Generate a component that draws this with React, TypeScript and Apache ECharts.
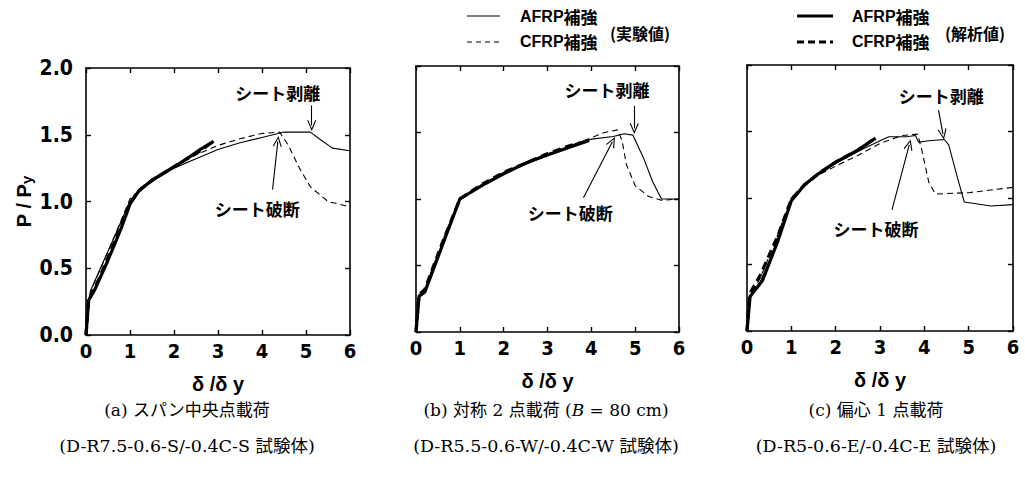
import React, { useEffect, useRef } from "react";
import * as echarts from "echarts";

// ---------- data (δ/δy , P/Py) ----------
// (a) span-centre loading
const aExpAFRP = [[0,0],[0.04,0.22],[0.1,0.33],[0.3,0.48],[0.6,0.7],[0.9,0.93],[1.0,1.0],[1.3,1.1],[1.6,1.17],[2,1.25],[2.5,1.32],[3,1.39],[3.5,1.44],[4,1.48],[4.5,1.52],[5.1,1.52],[5.3,1.47],[5.6,1.4],[6,1.38]];
const aExpCFRP = [[0,0],[0.05,0.25],[0.15,0.36],[0.4,0.55],[0.7,0.78],[1.0,1.02],[1.3,1.11],[1.6,1.18],[2,1.26],[2.5,1.35],[3,1.42],[3.5,1.47],[4,1.51],[4.4,1.52],[4.6,1.42],[4.85,1.25],[5.1,1.11],[5.5,1.0],[6,0.96]];
const aAnaAFRP = [[0,0],[0.06,0.26],[0.2,0.34],[0.5,0.56],[0.8,0.8],[1.0,0.98],[1.2,1.08],[1.5,1.16],[1.8,1.22],[2.2,1.3],[2.6,1.39],[2.9,1.45]];
const aAnaCFRP = [[0,0],[0.06,0.26],[0.2,0.35],[0.5,0.58],[0.8,0.82],[1.0,0.99],[1.2,1.08],[1.5,1.16],[1.8,1.22],[2.2,1.3],[2.6,1.38],[2.85,1.44]];
// (b) symmetric two-point loading
const bExpAFRP = [[0,0],[0.07,0.27],[0.2,0.3],[0.6,0.66],[1,1],[1.5,1.1],[2,1.19],[2.5,1.26],[3,1.33],[3.5,1.39],[4,1.45],[4.5,1.47],[4.75,1.49],[4.95,1.48],[5.2,1.3],[5.4,1.13],[5.6,1.0],[6,1.0]];
const bExpCFRP = [[0,0],[0.08,0.28],[0.2,0.32],[0.6,0.68],[1,1.01],[1.5,1.1],[2,1.2],[2.5,1.27],[3,1.34],[3.5,1.4],[4,1.46],[4.3,1.5],[4.6,1.52],[4.7,1.44],[4.8,1.26],[5.0,1.1],[5.3,1.02],[5.6,0.99],[6,1.0]];
const bAnaAFRP = [[0,0],[0.07,0.27],[0.2,0.3],[0.6,0.65],[1,1],[1.5,1.1],[2,1.19],[2.5,1.27],[3,1.33],[3.5,1.39],[3.95,1.44]];
const bAnaCFRP = [[0,0],[0.07,0.28],[0.2,0.32],[0.6,0.67],[1,1],[1.5,1.11],[2,1.2],[2.5,1.27],[3,1.34],[3.5,1.4],[3.85,1.43]];
// (c) eccentric one-point loading
const cExpAFRP = [[0,0],[0.07,0.25],[0.3,0.37],[0.6,0.6],[1,0.98],[1.3,1.1],[1.6,1.18],[2,1.26],[2.5,1.35],[3,1.43],[3.2,1.46],[3.6,1.46],[3.8,1.47],[3.87,1.42],[4.1,1.43],[4.45,1.44],[4.55,1.4],[4.75,1.15],[4.9,0.97],[5.5,0.94],[6,0.95]];
const cExpCFRP = [[0,0],[0.07,0.26],[0.3,0.4],[0.6,0.64],[1,1.0],[1.3,1.1],[1.6,1.17],[2,1.24],[2.5,1.32],[3,1.41],[3.5,1.47],[3.85,1.48],[3.95,1.35],[4.1,1.12],[4.25,1.03],[5,1.04],[6,1.08]];
const cAnaAFRP = [[0,0],[0.07,0.26],[0.35,0.38],[0.7,0.68],[1,0.98],[1.3,1.1],[1.6,1.18],[2,1.27],[2.5,1.36],[2.9,1.45]];
const cAnaCFRP = [[0,0],[0.06,0.28],[0.3,0.42],[0.7,0.72],[1,0.99],[1.3,1.1],[1.6,1.18],[2,1.27],[2.5,1.36],[2.85,1.44]];

// annotation anchors (data coords): [peelText, peelArrowFrom, peelArrowTo, ruptText, ruptArrowFrom, ruptArrowTo]
const aNotes = [[4.36,1.82],[5.13,1.72],[5.13,1.57],[3.89,0.95],[4.24,1.09],[4.36,1.45]];
const bNotes = [[4.36,1.82],[4.98,1.70],[4.98,1.53],[3.52,0.90],[3.82,1.01],[4.48,1.43]];
const cNotes = [[4.38,1.77],[4.32,1.66],[4.42,1.48],[2.91,0.77],[3.27,0.91],[3.66,1.40]];

const xTicks = ["0","1","2","3","4","5","6"];
const yTicks = ["0.0","0.5","1.0","1.5","2.0"];

const peelLabel = "シート剥離";
const ruptLabel = "シート破断";
const xName = "δ /δ y";
const captions1 = ["(a) スパン中央点載荷", "(b) 対称 2 点載荷 ({i|B} = 80 cm)", "(c) 偏心 1 点載荷"];
const captions2 = ["(D-R7.5-0.6-S/-0.4C-S 試験体)", "(D-R5.5-0.6-W/-0.4C-W 試験体)", "(D-R5-0.6-E/-0.4C-E 試験体)"];

const NARROW = "'Liberation Sans Narrow', 'DejaVu Sans Condensed', 'Liberation Sans', sans-serif";
const SANS = "'Liberation Sans', Arial, sans-serif";
const CJK = "'Noto Sans CJK JP', sans-serif";
const SERIF = "'DejaVu Serif', 'Liberation Serif', 'Noto Sans CJK JP', serif";

const grids = [
  { left: 86, top: 68, width: 264, height: 267 },
  { left: 416, top: 66, width: 263, height: 266 },
  { left: 747, top: 65, width: 266, height: 266 },
];

const CHEVRON = "path://M0,0L5,10L4,10.7L0,2.6L-4,10.7L-5,10Z";

function buildOption() {
  const lineCol = "#000";
  const axisLine = { show: true, onZero: false, lineStyle: { color: lineCol, width: 1.6 } };
  const axisTick = { show: true, inside: true, length: 5, lineStyle: { color: lineCol, width: 1.4 } };
  const xAxis: any[] = [];
  const yAxis: any[] = [];
  grids.forEach((_, gi) => {
    xAxis.push({
      type: "value", gridIndex: gi, min: 0, max: 6, interval: 1, position: "bottom",
      axisLine, axisTick, splitLine: { show: false },
      axisLabel: { show: true, margin: 6, color: "#000", fontFamily: NARROW, fontWeight: "bold", fontSize: 20,
        formatter: (v: number) => xTicks[Math.round(v)] },
      name: xName, nameLocation: "middle", nameGap: 39,
      nameTextStyle: { color: "#000", fontFamily: SANS, fontWeight: "bold", fontSize: 20 },
    });
    xAxis.push({
      type: "value", gridIndex: gi, min: 0, max: 6, interval: 1, position: "top",
      axisLine, axisTick, splitLine: { show: false }, axisLabel: { show: false },
    });
    yAxis.push({
      type: "value", gridIndex: gi, min: 0, max: 2, interval: 0.5, position: "left",
      axisLine, axisTick, splitLine: { show: false },
      axisLabel: { show: gi === 0, margin: 13, color: "#000", fontFamily: NARROW, fontWeight: "bold", fontSize: 21,
        formatter: (v: number) => yTicks[Math.round(v * 2)] },
      name: gi === 0 ? "P / P{s|y}" : "", nameLocation: "middle", nameGap: 52,
      nameTextStyle: { color: "#000", fontFamily: SANS, fontWeight: "bold", fontSize: 20,
        rich: { s: { fontFamily: SANS, fontWeight: "bold", fontSize: 15, padding: [6, 0, 0, 0] } } },
    });
    yAxis.push({
      type: "value", gridIndex: gi, min: 0, max: 2, interval: 0.5, position: "right",
      axisLine, axisTick, splitLine: { show: false }, axisLabel: { show: false },
    });
  });

  const sets = [
    [aExpAFRP, aExpCFRP, aAnaAFRP, aAnaCFRP, aNotes],
    [bExpAFRP, bExpCFRP, bAnaAFRP, bAnaCFRP, bNotes],
    [cExpAFRP, cExpCFRP, cAnaAFRP, cAnaCFRP, cNotes],
  ];
  const series: any[] = [];
  const noteText = { color: "#000", fontFamily: CJK, fontWeight: "bold", fontSize: 17 };
  sets.forEach((s: any, gi) => {
    const base = { type: "line", xAxisIndex: gi * 2, yAxisIndex: gi * 2, showSymbol: false, symbol: "none", silent: true };
    series.push({ ...base, name: "AFRP補強(解析値)", data: s[2], lineStyle: { color: "#000", width: 3.2, type: "solid" } });
    series.push({ ...base, name: "CFRP補強(解析値)", data: s[3], lineStyle: { color: "#000", width: 3.2, type: [8, 5] } });
    series.push({ ...base, name: "CFRP補強(実験値)", data: s[1], lineStyle: { color: "#000", width: 1.1, type: [6, 4] } });
    const n = s[4];
    series.push({
      ...base, name: "AFRP補強(実験値)", data: s[0], lineStyle: { color: "#000", width: 1.1, type: "solid" },
      markPoint: {
        silent: true, symbol: "circle", symbolSize: 1, itemStyle: { color: "rgba(0,0,0,0)" },
        label: { show: true, position: "inside", ...noteText },
        data: [
          { coord: n[0], label: { formatter: peelLabel } },
          { coord: n[3], label: { formatter: ruptLabel } },
        ],
      },
      markLine: {
        silent: true, symbol: ["none", CHEVRON], symbolSize: [9, 11],
        label: { show: false }, lineStyle: { color: "#000", width: 1.1, type: "solid" },
        data: [
          [{ coord: n[1] }, { coord: n[2] }],
          [{ coord: n[4] }, { coord: n[5] }],
        ],
      },
    });
  });

  const legend = (x1: number, x2: number, tx: number, tagX: number, tag: string, w: number, dash: number[]) => {
    const rich = {
      a: { fontFamily: SANS, fontWeight: "bold", fontSize: 16, color: "#000" },
      b: { fontFamily: CJK, fontWeight: "bold", fontSize: 17, color: "#000" },
    };
    return [
      { type: "line", shape: { x1, y1: 16, x2, y2: 16 }, style: { stroke: "#000", lineWidth: w } },
      { type: "line", shape: { x1, y1: 42, x2, y2: 42 }, style: { stroke: "#000", lineWidth: w, lineDash: dash } },
      { type: "text", x: tx, y: 16, style: { text: "{a|AFRP}{b|補強}", rich, verticalAlign: "middle", align: "left" } },
      { type: "text", x: tx, y: 41, style: { text: "{a|CFRP}{b|補強}", rich, verticalAlign: "middle", align: "left" } },
      { type: "text", x: tagX, y: 33, style: { text: tag, fontFamily: CJK, fontWeight: "bold", fontSize: 16, fill: "#000", verticalAlign: "middle", align: "left" } },
    ];
  };

  const capCentres = [187, 546, 876];
  const captionEls: any[] = [];
  capCentres.forEach((cx, i) => {
    captionEls.push({ type: "text", x: cx, y: 410, style: { text: captions1[i], fontFamily: SERIF, fontSize: 17, fill: "#000", align: "center", verticalAlign: "middle",
      rich: { i: { fontFamily: SERIF, fontStyle: "italic", fontSize: 17, fill: "#000" } } } });
    captionEls.push({ type: "text", x: cx, y: 446, style: { text: captions2[i], fontFamily: SERIF, fontSize: 17.5, fill: "#000", align: "center", verticalAlign: "middle" } });
  });

  return {
    animation: false,
    backgroundColor: "#fff",
    grid: grids,
    xAxis, yAxis, series,
    graphic: [
      ...legend(467, 500, 520, 610, "(実験値)", 1.1, [5, 4]),
      ...legend(797, 833, 852, 945, "(解析値)", 3, [7, 4]),
      ...captionEls,
    ],
  };
}

export default function App() {
  const ref = useRef<HTMLDivElement>(null);
  useEffect(() => {
    if (!ref.current) return;
    const chart = echarts.init(ref.current, undefined, { renderer: "svg" });
    chart.setOption(buildOption() as any);
    return () => chart.dispose();
  }, []);
  return <div ref={ref} style={{ position: "fixed", left: 0, top: 0, width: 1025, height: 477, background: "#fff" }} />;
}
